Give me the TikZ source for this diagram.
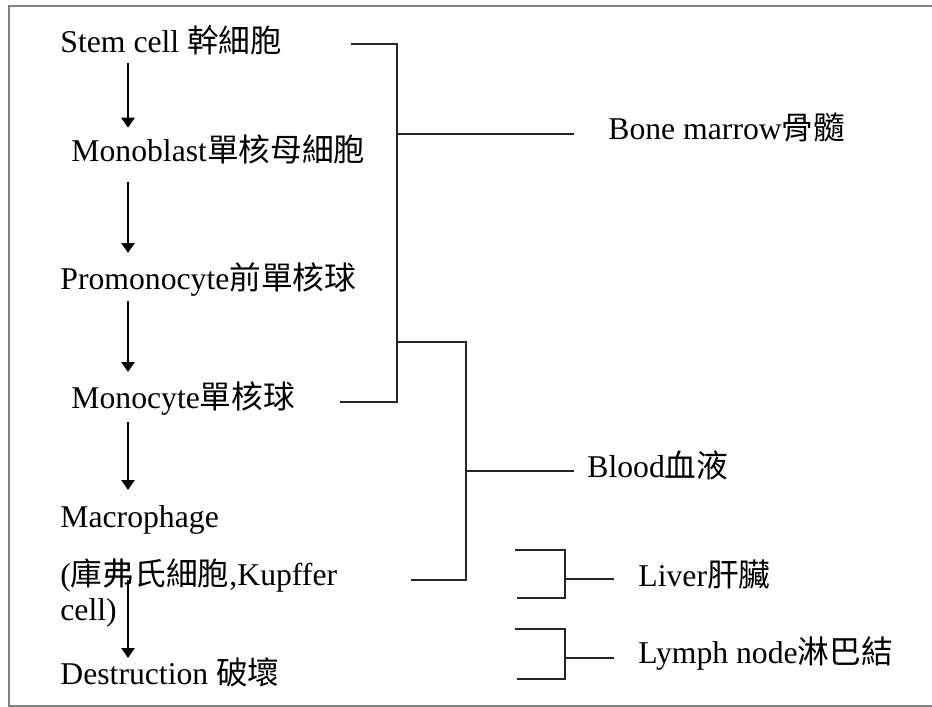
\documentclass[tikz,border=0pt]{standalone}
\usepackage{fontspec}
\setmainfont{Liberation Serif}
\newfontfamily\cjk{Noto Sans CJK TC}
\newcommand{\zh}[1]{{\cjk #1}}
\usetikzlibrary{arrows.meta,calc}

\tikzset{
  stage/.style={inner sep=0pt,anchor=base west,font=\fontsize{15.85}{19}\selectfont},
  site/.style={stage},
  flow/.style={line width=1.3pt,-{Triangle[width=6.5pt,length=5pt]}},
  link/.style={line width=0.75pt,black!85},
  frame/.style={line width=1pt,black!50}
}

\begin{document}
\begin{tikzpicture}[x=0.5pt,y=-0.5pt]
    \useasboundingbox (0,0) rectangle (932,707);
    \draw[frame] (932,5.5) -- (8.5,5.5) -- (8.5,706) -- (932,706);

    \coordinate (ax) at (128,0);
    \node[stage] (stem)    at (60,52)    {Stem cell \zh{幹細胞}};
    \node[stage] (blast)   at (71,161.7) {Monoblast\zh{單核母細胞}};
    \node[stage] (promono) at (60,289)   {Promonocyte\zh{前單核球}};
    \node[stage] (mono)    at (71,408)   {Monocyte\zh{單核球}};
    \node[stage] (macro)   at (60,527)   {Macrophage};
    \node[stage] (kupffer) at (60,585)   {(\zh{庫弗氏細胞},Kupffer};
    \node[stage] (kcell)   at (60,620)   {cell)};
    \node[stage] (dest)    at (60,684)   {Destruction \zh{破壞}};

    \node[site] (bone)  at (608,139) {Bone marrow\zh{骨髓}};
    \node[site] (blood) at (587,477) {Blood\zh{血液}};
    \node[site] (liver) at (638,586) {Liver\zh{肝臟}};
    \node[site] (lymph) at (638,663) {Lymph node\zh{淋巴結}};

    \draw[flow] ($(stem.base -| ax)+(0,11)$)    -- ($(blast.base -| ax)+(0,-34)$);
    \draw[flow] ($(blast.base -| ax)+(0,20)$)   -- ($(promono.base -| ax)+(0,-36)$);
    \draw[flow] ($(promono.base -| ax)+(0,12)$) -- ($(mono.base -| ax)+(0,-36)$);
    \draw[flow] ($(mono.base -| ax)+(0,14)$)    -- ($(macro.base -| ax)+(0,-37)$);
    \draw[flow] ($(kupffer.base -| ax)+(0,-5)$) -- ($(dest.base -| ax)+(0,-26)$);

    \coordinate (bm) at (397,134);
    \coordinate (bltop) at (397,342);
    \coordinate (bl) at (466,471);
    \draw[link] ($(stem.base east)+(68,-8)$) -| (bm) |- ($(mono.base east)+(45,-6)$);
    \draw[link] (bm) -- ($(bone.base west)+(-34,-5)$);
    \draw[link] (bltop) -| (bl) |- ($(kupffer.base east)+(73,-5)$);
    \draw[link] (bl) -- ($(blood.base west)+(-13,-6)$);

    \coordinate (lvtop) at (515,550);
    \coordinate (lvbot) at (517,598);
    \coordinate (lv) at (565,579);
    \draw[link] (lvtop) -| (lv) |- (lvbot);
    \draw[link] (lv) -- ($(liver.base west)+(-24,-7)$);

    \coordinate (lytop) at (515,629);
    \coordinate (lybot) at (517,679);
    \coordinate (ly) at (565,658);
    \draw[link] (lytop) -| (ly) |- (lybot);
    \draw[link] (ly) -- ($(lymph.base west)+(-24,-5)$);
\end{tikzpicture}
\end{document}
